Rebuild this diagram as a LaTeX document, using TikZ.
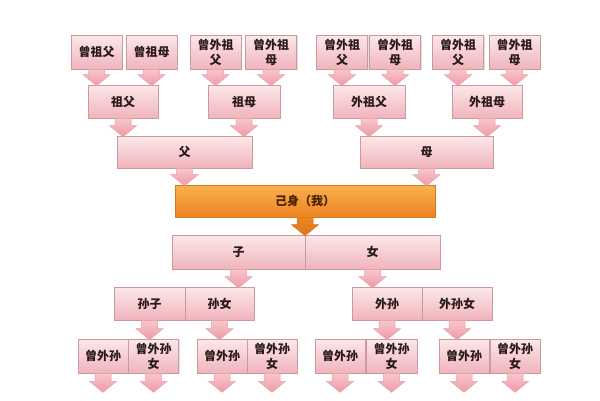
\documentclass[tikz,border=0pt]{standalone}
\usepackage{fontspec}
\setmainfont{Noto Sans CJK SC}
\usetikzlibrary{shadows,calc}
\definecolor{boxtop}{HTML}{FCE8EA}
\definecolor{boxbot}{HTML}{F0B4BB}
\definecolor{boxline}{HTML}{C99AA0}
\definecolor{arrtop}{HTML}{F8C6CC}
\definecolor{arrbot}{HTML}{EF9AA6}
\definecolor{arrline}{HTML}{E6A0AA}
\definecolor{ortop}{HTML}{F9B050}
\definecolor{orbot}{HTML}{EC8420}
\definecolor{orline}{HTML}{D9791E}
\definecolor{ortxt}{HTML}{4A2000}
\definecolor{txt}{HTML}{2A1A1A}
\tikzset{
  box/.style={draw=boxline, line width=0.6pt, top color=boxtop, bottom color=boxbot,
    inner sep=0pt, align=center, font=\fontsize{12}{15}\selectfont\bfseries, text=txt,
    drop shadow={opacity=0.25, shadow xshift=1.2pt, shadow yshift=-1.2pt}},
  mebox/.style={box, draw=orline, top color=ortop, bottom color=orbot, text=ortxt},
  arr/.style={draw=arrline, line width=0.5pt, top color=arrtop, bottom color=arrbot},
  orarr/.style={draw=orline, line width=0.5pt, top color=orbot, bottom color=orline}
}
\newcommand\bx[7][box]{\node[#1, minimum width=#5pt, minimum height=#6pt] (#2) at (#3,#4) {#7};}
\newcommand\barrow[3][arr]{%
  \path[#1] let \p1=#2, \p2=#3 in
    ({\x1-8pt},{\y1}) -- ({\x1+8pt},{\y1}) -- ({\x1+8pt},{\y2+10pt}) --
    ({\x1+13.5pt},{\y2+10pt}) -- ({\x1},{\y2-1pt}) -- ({\x1-13.5pt},{\y2+10pt}) --
    ({\x1-8pt},{\y2+10pt}) -- cycle;}
\begin{document}
\begin{tikzpicture}[x=1pt,y=-1pt]
\fill[white] (0,0) rectangle (600,400);
\useasboundingbox (0,0) rectangle (600,400);
% row 1
\bx{a1}{96.5}{52}{51}{34}{曾祖父}
\bx{a2}{151.5}{52}{51}{34}{曾祖母}
\bx{a3}{215.5}{52}{51}{34}{曾外祖\\父}
\bx{a4}{271}{52}{51}{34}{曾外祖\\母}
\bx{a5}{342}{52}{51}{34}{曾外祖\\父}
\bx{a6}{395}{52}{51}{34}{曾外祖\\母}
\bx{a7}{458}{52}{51}{34}{曾外祖\\父}
\bx{a8}{514.5}{52}{51}{34}{曾外祖\\母}
% row 2
\bx{b1}{123}{101.5}{70}{33}{祖父}
\bx{b2}{244}{101.5}{72}{33}{祖母}
\bx{b3}{369}{101.5}{72}{33}{外祖父}
\bx{b4}{487}{101.5}{70}{33}{外祖母}
% row 3
\bx{c1}{184.5}{152}{135}{32}{父}
\bx{c2}{426.5}{152}{133}{32}{母}
% me
\bx[mebox]{me}{305}{201}{260}{32}{己身（我）}
% row 5
\bx{e1}{238.5}{252}{133}{34}{子}
\bx{e2}{372.5}{252}{135}{34}{女}
% row 6
\bx{f1}{149.5}{303.5}{71}{33}{孙子}
\bx{f2}{219.5}{303.5}{69}{33}{孙女}
\bx{f3}{387}{303.5}{70}{33}{外孙}
\bx{f4}{457}{303.5}{70}{33}{外孙女}
% row 7
\bx{g1}{103}{356}{50}{34}{曾外孙}
\bx{g2}{153.5}{356}{50}{34}{曾外孙\\女}
\bx{g3}{222}{356}{50}{34}{曾外孙}
\bx{g4}{272}{356}{50}{34}{曾外孙\\女}
\bx{g5}{340}{356}{50}{34}{曾外孙}
\bx{g6}{391.5}{356}{51}{34}{曾外孙\\女}
\bx{g7}{464}{356}{50}{34}{曾外孙}
\bx{g8}{515}{356}{50}{34}{曾外孙\\女}
\foreach \g in {g1,g2,g3,g4,g5,g6,g7,g8}{\coordinate (\g e) at ($(\g.south)+(0,18)$);}
% arrows
\barrow{(a1.south)}{(b1.north)}
\barrow{(a2.south)}{(b1.north)}
\barrow{(a3.south)}{(b2.north)}
\barrow{(a4.south)}{(b2.north)}
\barrow{(a5.south)}{(b3.north)}
\barrow{(a6.south)}{(b3.north)}
\barrow{(a7.south)}{(b4.north)}
\barrow{(a8.south)}{(b4.north)}
\barrow{(b1.south)}{(c1.north)}
\barrow{(b2.south)}{(c1.north)}
\barrow{(b3.south)}{(c2.north)}
\barrow{(b4.south)}{(c2.north)}
\barrow{(c1.south)}{(me.north)}
\barrow{(c2.south)}{(me.north)}
\barrow[orarr]{(me.south)}{(e1.north)}
\barrow{(e1.south)}{(f2.north)}
\barrow{(e2.south)}{(f3.north)}
\barrow{(f1.south)}{(g2.north)}
\barrow{(f2.south)}{(g3.north)}
\barrow{(f3.south)}{(g6.north)}
\barrow{(f4.south)}{(g7.north)}
\foreach \g in {g1,g2,g3,g4,g5,g6,g7,g8}{\barrow{(\g.south)}{(\g e)}}
\end{tikzpicture}
\end{document}
